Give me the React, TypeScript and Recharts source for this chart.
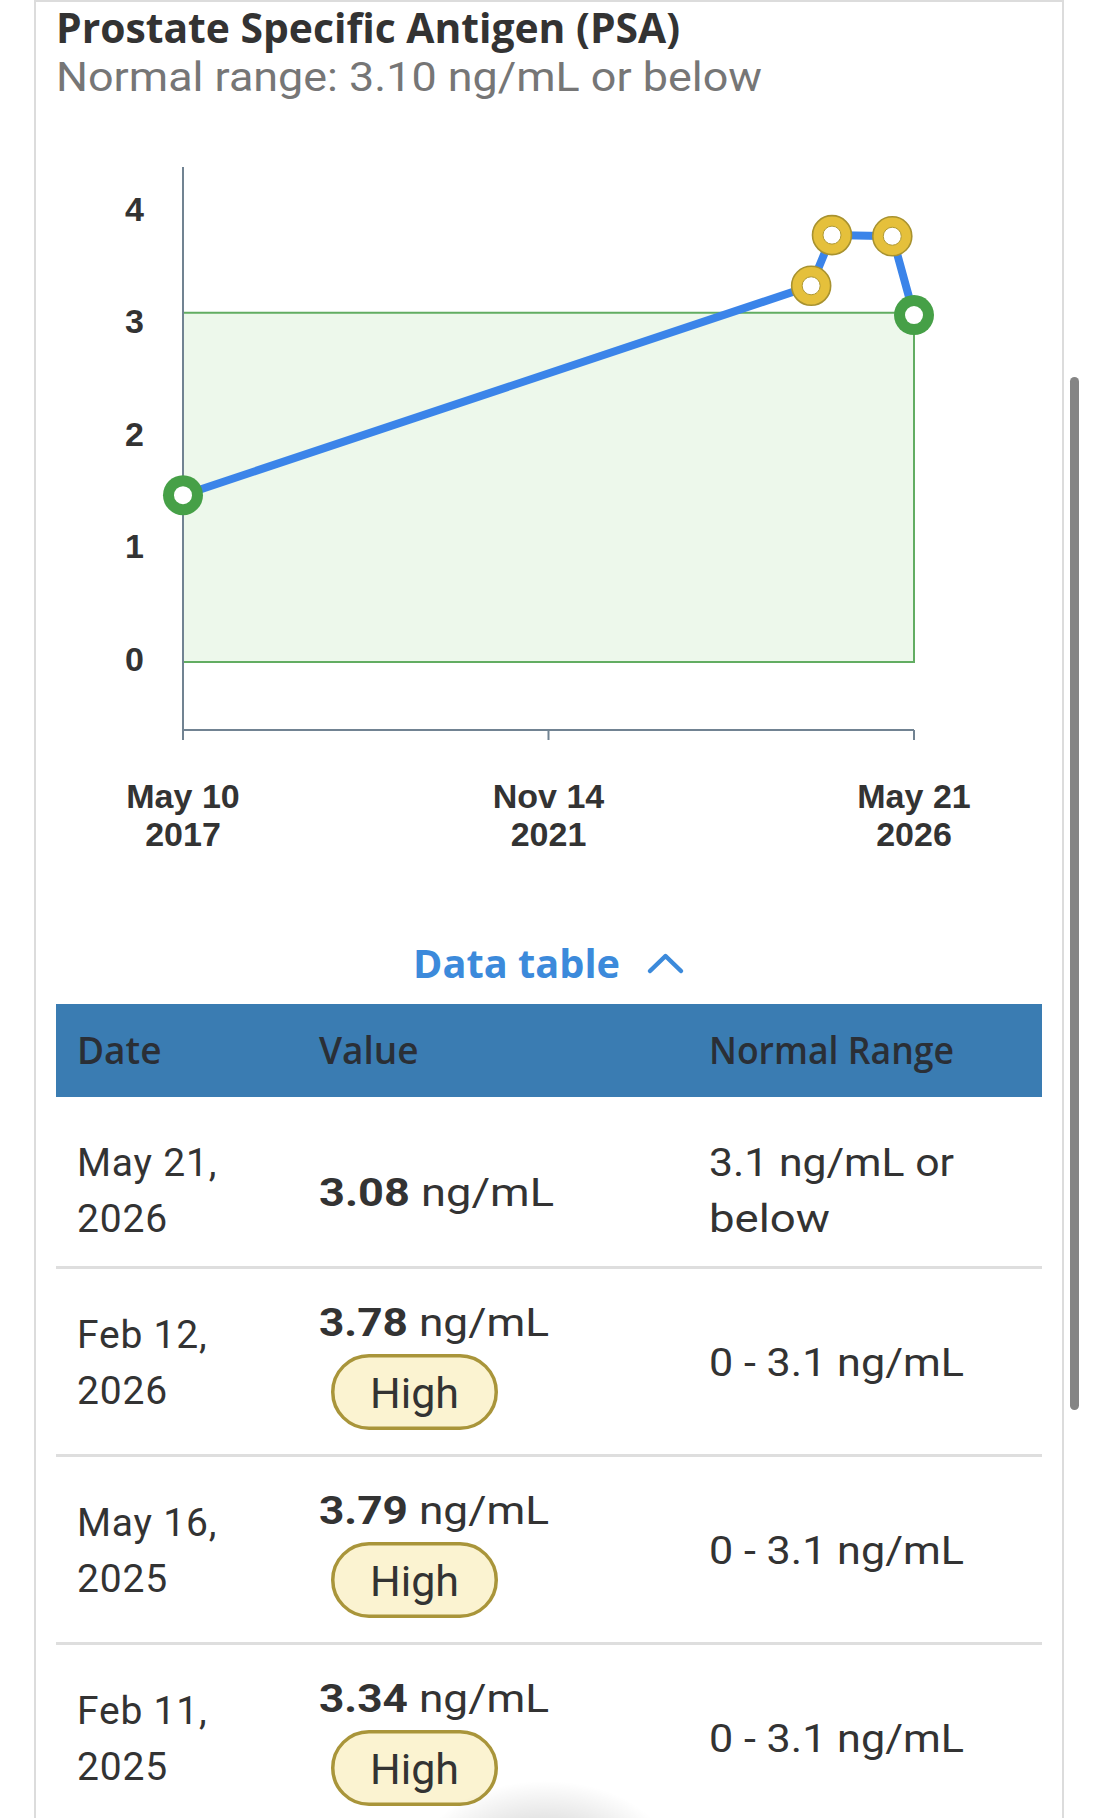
import React from 'react';
import { ComposedChart, Line, XAxis, YAxis, ReferenceArea } from 'recharts';

// ---- data ----
const resultDates = ['2017-05-10', '2025-02-11', '2025-05-16', '2026-02-12', '2026-05-21'];
const resultValues = [1.48, 3.34, 3.79, 3.78, 3.08];
const resultFlags = ['normal', 'high', 'high', 'high', 'normal'];
const tableDateLines = [
  ['May 10,', '2017'],
  ['Feb 11,', '2025'],
  ['May 16,', '2025'],
  ['Feb 12,', '2026'],
  ['May 21,', '2026'],
];
const tableRangeLines = [
  ['0 - 3.1 ng/mL'],
  ['0 - 3.1 ng/mL'],
  ['0 - 3.1 ng/mL'],
  ['0 - 3.1 ng/mL'],
  ['3.1 ng/mL or', 'below'],
];
const xTickDates = ['2017-05-10', '2021-11-14', '2026-05-21'];
const xTickLabels = [
  ['May 10', '2017'],
  ['Nov 14', '2021'],
  ['May 21', '2026'],
];
const yTicks = [0, 1, 2, 3, 4];
const yDomain: [number, number] = [-0.605, 4.395];
const normalLow = 0;
const normalHigh = 3.1;
const headerLabels = ['Date', 'Value', 'Normal Range'];
const titleText = 'Prostate Specific Antigen (PSA)';
const subtitleText = 'Normal range: 3.10 ng/mL or below';
const unitText = 'ng/mL';
const highLabel = 'High';

const toDay = (s: string) => Date.parse(s + 'T00:00:00Z') / 86400000;
const chartData = resultDates.map((d, i) => ({ t: toDay(d), v: resultValues[i], flag: resultFlags[i] }));
const xTickValues = xTickDates.map(toDay);
const xMin = xTickValues[0];
const xMax = xTickValues[xTickValues.length - 1];

// ---- styles ----
const AXIS = '#718392';
const TEXT = '#333333';
const BODY_FONT = 'Roboto, "Noto Sans", sans-serif';
const AXIS_FONT = '"Liberation Sans", Arial, sans-serif';
// measured text widths of the reference's wide body font
const rangeWidth: Record<string, number> = { '0 - 3.1 ng/mL': 255, '3.1 ng/mL or': 245, below: 121 };
const VALUE_WIDTH = 232;

const renderDot = (props: any) => {
  const { cx, cy, payload, index } = props;
  if (cx == null || cy == null) return <g key={`d${index}`} />;
  if (payload.flag === 'high') {
    return (
      <g key={`d${index}`}>
        <circle cx={cx} cy={cy} r={19.5} fill="#E5C03B" stroke="#A8922F" strokeWidth={1.6} />
        <circle cx={cx} cy={cy} r={9} fill="#ffffff" stroke="#B09A35" strokeWidth={1} />
      </g>
    );
  }
  return (
    <g key={`d${index}`}>
      <circle cx={cx} cy={cy} r={20} fill="#46A047" />
      <circle cx={cx} cy={cy} r={9} fill="#ffffff" />
    </g>
  );
};

const XTick = (props: any) => {
  const { x, y, payload } = props;
  let idx = 0;
  let best = Infinity;
  xTickValues.forEach((v, i) => {
    const d = Math.abs(v - payload.value);
    if (d < best) { best = d; idx = i; }
  });
  const lines = xTickLabels[idx];
  return (
    <text x={x} y={y} textAnchor="middle" fontFamily={AXIS_FONT} fontWeight={700} fontSize={34} fill={TEXT}>
      <tspan x={x} dy={68}>{lines[0]}</tspan>
      <tspan x={x} dy={38}>{lines[1]}</tspan>
    </text>
  );
};

const PsaChart = () => (
  <ComposedChart
    width={1099}
    height={880}
    data={chartData}
    margin={{ top: 167, right: 185, bottom: 0, left: 83 }}
  >
    <ReferenceArea
      x1={xMin}
      x2={xMax}
      y1={normalLow}
      y2={normalHigh}
      fill="#EDF8EB"
      fillOpacity={1}
      stroke="#62AD62"
      strokeWidth={2}
    />
    <XAxis
      dataKey="t"
      type="number"
      domain={[xMin, xMax]}
      ticks={xTickValues}
      height={150}
      axisLine={{ stroke: AXIS, strokeWidth: 2 }}
      tickLine={{ stroke: AXIS, strokeWidth: 2 }}
      tickSize={10}
      tickMargin={0}
      tick={<XTick />}
      interval={0}
    />
    <YAxis
      type="number"
      domain={yDomain}
      ticks={yTicks}
      width={100}
      axisLine={{ stroke: AXIS, strokeWidth: 2 }}
      tickLine={false}
      tickSize={0}
      tickMargin={39}
      tick={{ fill: TEXT, fontSize: 34, fontWeight: 700, fontFamily: AXIS_FONT, dy: -3 }}
      interval={0}
    />
    <Line
      type="linear"
      dataKey="v"
      stroke="#3B84E9"
      strokeWidth={8}
      dot={renderDot}
      activeDot={false}
      isAnimationActive={false}
    />
  </ComposedChart>
);

// table rows, newest first (first 2017 result is below the fold)
const tableOrder = [4, 3, 2, 1];

const Pill = ({ y }: { y: number }) => (
  <g>
    <rect x={332.75} y={y + 1.75} width={163.5} height={72.5} rx={36.25} fill="#FBF3D1" stroke="#A9953A" strokeWidth={3.5} />
    <text x={414.5} y={y + 54} textAnchor="middle" fontFamily={BODY_FONT} fontSize={43} fill={TEXT}>{highLabel}</text>
  </g>
);

const BodyText = ({ x, y, children, len, ls = 0.8 }: any) => (
  <text
    x={x}
    y={y}
    fontFamily={BODY_FONT}
    fontSize={39}
    fill={TEXT}
    letterSpacing={len ? 0 : ls}
    textLength={len}
    lengthAdjust={len ? 'spacingAndGlyphs' : undefined}
  >
    {children}
  </text>
);

const Overlay = () => {
  const rows: React.ReactNode[] = [];
  tableOrder.forEach((di, r) => {
    const flag = resultFlags[di];
    const dl = tableDateLines[di];
    const rl = tableRangeLines[di];
    const val = resultValues[di].toFixed(2);
    if (flag === 'normal') {
      const top = 1097;
      rows.push(
        <g key={`r${r}`}>
          <BodyText x={77} y={top + 79}>{dl[0]}</BodyText>
          <BodyText x={77} y={top + 135}>{dl[1]}</BodyText>
          <BodyText x={319} y={top + 109} len={VALUE_WIDTH + 3}>
            <tspan fontWeight={700}>{val}</tspan> {unitText}
          </BodyText>
          {rl.map((line, k) => (
            <BodyText key={k} x={709} y={top + 79 + k * 56} len={rangeWidth[line]}>{line}</BodyText>
          ))}
          <rect x={56} y={1266} width={986} height={3} fill="#DEDEDE" />
        </g>
      );
    } else {
      const top = 1267 + (r - 1) * 188;
      rows.push(
        <g key={`r${r}`}>
          <BodyText x={77} y={top + 81}>{dl[0]}</BodyText>
          <BodyText x={77} y={top + 137}>{dl[1]}</BodyText>
          <BodyText x={319} y={top + 69} len={VALUE_WIDTH - 2}>
            <tspan fontWeight={700}>{val}</tspan> {unitText}
          </BodyText>
          <Pill y={top + 87} />
          {rl.map((line, k) => (
            <BodyText key={k} x={709} y={top + 109 + k * 56} len={rangeWidth[line]}>{line}</BodyText>
          ))}
          <rect x={56} y={top + 187} width={986} height={3} fill="#DEDEDE" />
        </g>
      );
    }
  });

  return (
    <svg width={1099} height={1818} style={{ position: 'absolute', left: 0, top: 0, pointerEvents: 'none' }}>
      <text x={56} y={43} fontFamily='"Open Sans", sans-serif' fontWeight={700} fontSize={41} fill="#333333" textLength={624} lengthAdjust="spacingAndGlyphs">{titleText}</text>
      <text x={56} y={91} fontFamily={BODY_FONT} fontSize={40} fill="#767676" textLength={706} lengthAdjust="spacingAndGlyphs">{subtitleText}</text>

      <text x={413} y={978} fontFamily='"Open Sans", sans-serif' fontWeight={700} fontSize={39} fill="#3C8ADB" textLength={207} lengthAdjust="spacingAndGlyphs">Data table</text>
      <polyline points="650,971 665.5,956 681,971" fill="none" stroke="#3C8ADB" strokeWidth={4.5} strokeLinecap="round" strokeLinejoin="round" />

      <rect x={56} y={1004} width={986} height={93} fill="#3A7CB2" />
      <text x={77} y={1064} fontFamily='"Open Sans", sans-serif' fontWeight={600} fontSize={37} fill="#2A2F36">{headerLabels[0]}</text>
      <text x={319} y={1064} fontFamily='"Open Sans", sans-serif' fontWeight={600} fontSize={37} fill="#2A2F36">{headerLabels[1]}</text>
      <text x={709} y={1064} fontFamily='"Open Sans", sans-serif' fontWeight={600} fontSize={37} fill="#2A2F36" textLength={245} lengthAdjust="spacingAndGlyphs">{headerLabels[2]}</text>

      {rows}
    </svg>
  );
};

export default function App() {
  return (
    <div style={{ position: 'absolute', left: 0, top: 0, width: 1099, height: 1818, overflow: 'hidden', background: '#ffffff' }}>
      <div style={{ position: 'absolute', left: 34, top: 0, width: 1030, height: 1900, boxSizing: 'border-box', border: '2px solid #DCDCDC' }} />
      <div style={{ position: 'absolute', left: 0, top: 0 }}>
        <PsaChart />
      </div>
      <Overlay />
      <div style={{ position: 'absolute', left: 1070, top: 377, width: 9, height: 1033, borderRadius: 5, background: '#858585' }} />
      <div style={{ position: 'absolute', left: 420, top: 1780, width: 250, height: 76, background: 'radial-gradient(ellipse at 50% 100%, rgba(0,0,0,0.30) 0%, rgba(0,0,0,0.10) 35%, rgba(0,0,0,0) 70%)' }} />
    </div>
  );
}
